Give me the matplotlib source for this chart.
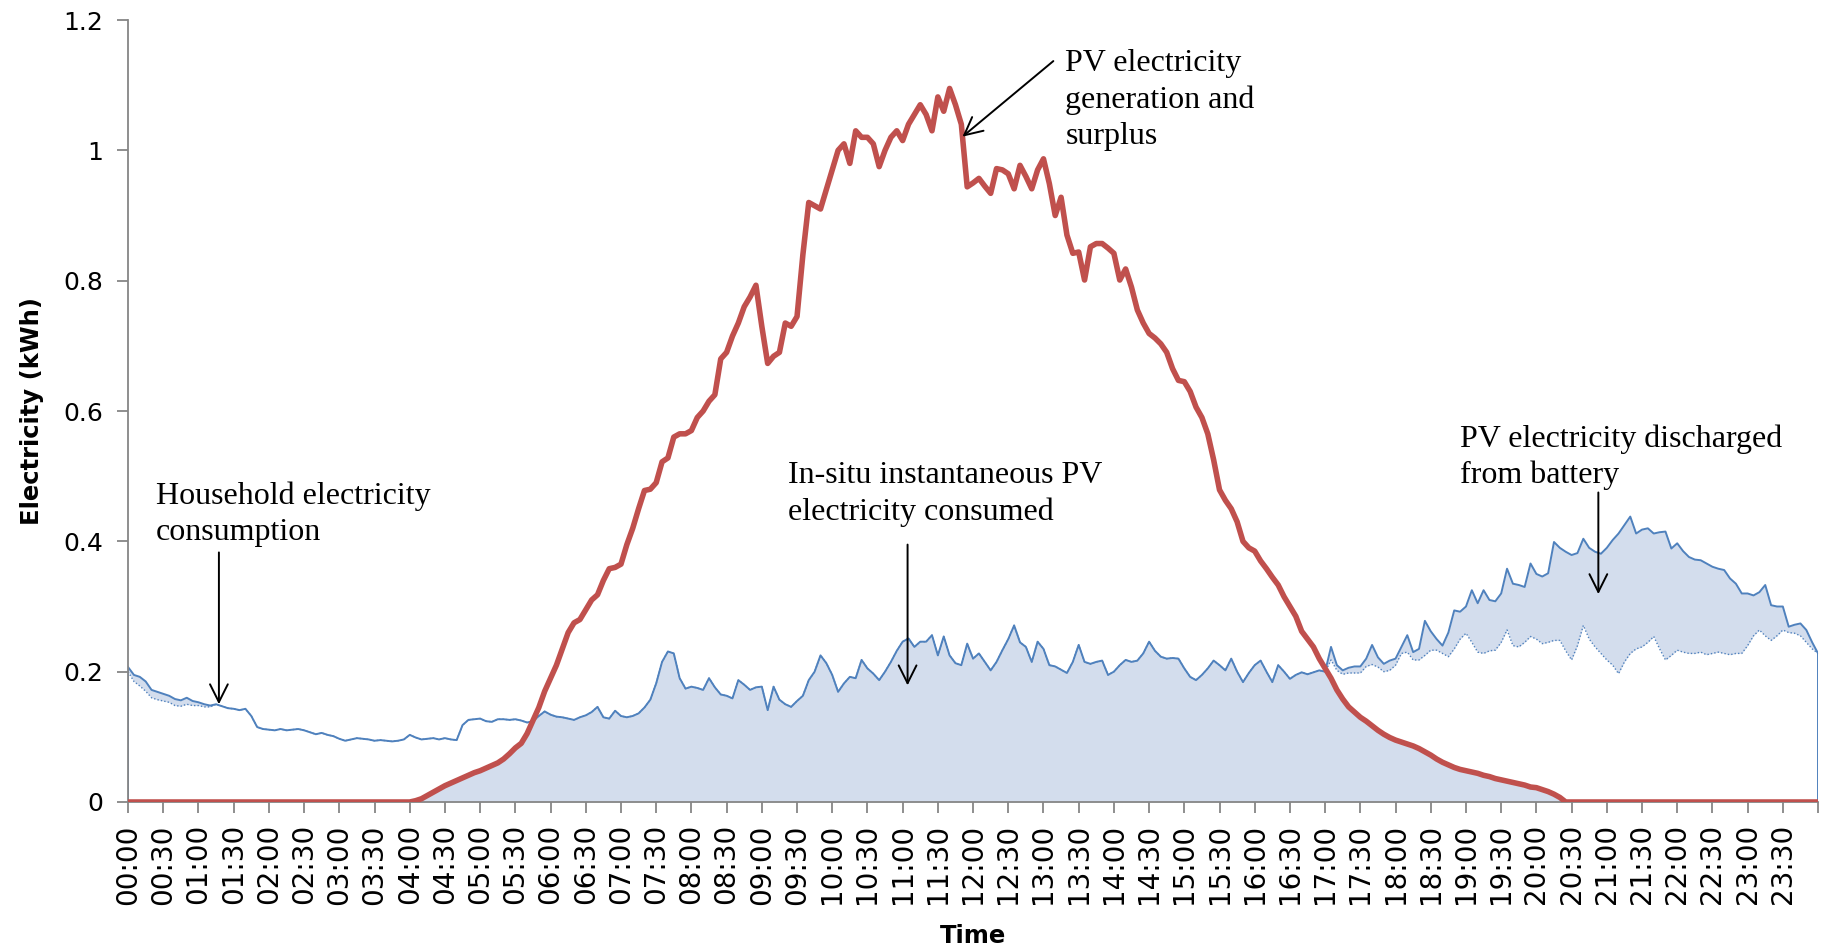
import numpy as np
import matplotlib
matplotlib.use("Agg")
import matplotlib.pyplot as plt

# 5-minute readings, 00:00 .. 24:00 (one row per hour)
minutes = np.arange(0, 24 * 60 + 1, 5)

pv_generation = [
    0, 0, 0, 0, 0, 0, 0, 0, 0, 0, 0, 0,  # 00
    0, 0, 0, 0, 0, 0, 0, 0, 0, 0, 0, 0,  # 01
    0, 0, 0, 0, 0, 0, 0, 0, 0, 0, 0, 0,  # 02
    0, 0, 0, 0, 0, 0, 0, 0, 0, 0, 0, 0,  # 03
    0, 0.002, 0.005, 0.01, 0.015, 0.02, 0.025, 0.029, 0.033, 0.037, 0.041, 0.045,
    0.048, 0.052, 0.056, 0.06, 0.066, 0.074, 0.083, 0.09, 0.105, 0.125, 0.145, 0.17,
    0.19, 0.21, 0.235, 0.26, 0.275, 0.28, 0.295, 0.31, 0.318, 0.34, 0.358, 0.36,
    0.365, 0.395, 0.42, 0.45, 0.478, 0.48, 0.49, 0.522, 0.528, 0.56, 0.565, 0.565,
    0.57, 0.59, 0.6, 0.615, 0.625, 0.68, 0.69, 0.715, 0.735, 0.76, 0.775, 0.793,
    0.73, 0.673, 0.684, 0.69, 0.735, 0.73, 0.745, 0.84, 0.92, 0.915, 0.91, 0.94,
    0.97, 1.0, 1.01, 0.98, 1.03, 1.02, 1.02, 1.01, 0.975, 1.0, 1.02, 1.03,
    1.015, 1.04, 1.055, 1.07, 1.055, 1.03, 1.082, 1.06, 1.095, 1.07, 1.04, 0.944,
    0.95, 0.957, 0.945, 0.934, 0.972, 0.97, 0.964, 0.941, 0.977, 0.96, 0.941, 0.97,
    0.987, 0.949, 0.9, 0.928, 0.87, 0.842, 0.844, 0.801, 0.852, 0.857, 0.857, 0.85,
    0.842, 0.801, 0.818, 0.79, 0.755, 0.735, 0.719, 0.712, 0.703, 0.69, 0.665, 0.647,
    0.645, 0.63, 0.606, 0.59, 0.565, 0.525, 0.479, 0.463, 0.45, 0.43, 0.4, 0.39,
    0.385, 0.37, 0.358, 0.345, 0.333, 0.315, 0.3, 0.285, 0.262, 0.25, 0.238, 0.22,
    0.205, 0.19, 0.172, 0.158, 0.146, 0.138, 0.13, 0.124, 0.117, 0.11, 0.104, 0.099,
    0.095, 0.092, 0.089, 0.086, 0.082, 0.077, 0.072, 0.066, 0.061, 0.057, 0.053, 0.05,
    0.048, 0.046, 0.044, 0.041, 0.039, 0.036, 0.034, 0.032, 0.03, 0.028, 0.026, 0.023,
    0.022, 0.019, 0.016, 0.012, 0.007, 0, 0, 0, 0, 0, 0, 0,
    0, 0, 0, 0, 0, 0, 0, 0, 0, 0, 0, 0,  # 21
    0, 0, 0, 0, 0, 0, 0, 0, 0, 0, 0, 0,  # 22
    0, 0, 0, 0, 0, 0, 0, 0, 0, 0, 0, 0,  # 23
    0,
]

consumption = [
    0.207, 0.195, 0.192, 0.185, 0.172, 0.169, 0.166, 0.163, 0.158, 0.156, 0.16, 0.155,
    0.153, 0.15, 0.148, 0.15, 0.147, 0.144, 0.143, 0.141, 0.143, 0.132, 0.115, 0.112,
    0.111, 0.11, 0.112, 0.11, 0.111, 0.112, 0.11, 0.107, 0.104, 0.106, 0.103, 0.101,
    0.097, 0.094, 0.096, 0.098, 0.097, 0.096, 0.094, 0.095, 0.094, 0.093, 0.094, 0.096,
    0.103, 0.099, 0.096, 0.097, 0.098, 0.096, 0.098, 0.096, 0.095, 0.118, 0.126, 0.127,
    0.128, 0.124, 0.123, 0.127, 0.127, 0.126, 0.127, 0.125, 0.122, 0.124, 0.132, 0.139,
    0.134, 0.131, 0.13, 0.128, 0.126, 0.13, 0.133, 0.138, 0.146, 0.13, 0.128, 0.14,
    0.132, 0.13, 0.132, 0.136, 0.145, 0.157, 0.182, 0.215, 0.231, 0.228, 0.19, 0.174,
    0.177, 0.175, 0.172, 0.19, 0.176, 0.165, 0.163, 0.159, 0.187, 0.18, 0.172, 0.176,
    0.177, 0.141, 0.177, 0.157, 0.15, 0.146, 0.155, 0.163, 0.187, 0.2, 0.225, 0.213,
    0.195, 0.169, 0.182, 0.192, 0.19, 0.218, 0.205, 0.197, 0.187, 0.2, 0.215, 0.232,
    0.246, 0.251, 0.238, 0.246, 0.246, 0.256, 0.225, 0.254, 0.225, 0.213, 0.21, 0.243,
    0.22, 0.228, 0.215, 0.202, 0.215, 0.233, 0.25, 0.271, 0.245, 0.238, 0.215, 0.246,
    0.235, 0.21, 0.208, 0.203, 0.198, 0.215, 0.241, 0.215, 0.212, 0.215, 0.217, 0.195,
    0.2, 0.21, 0.218, 0.215, 0.217, 0.228, 0.246, 0.232, 0.223, 0.22, 0.221, 0.22,
    0.205, 0.192, 0.187, 0.195, 0.205, 0.217, 0.21, 0.202, 0.22, 0.2, 0.184, 0.198,
    0.21, 0.217, 0.2, 0.184, 0.21, 0.2, 0.189, 0.195, 0.199, 0.196, 0.199, 0.202,
    0.2, 0.238, 0.21, 0.202, 0.206, 0.208, 0.208, 0.22, 0.241, 0.222, 0.212, 0.217,
    0.22, 0.238, 0.256, 0.23, 0.235, 0.278, 0.262, 0.25, 0.24, 0.26, 0.294, 0.292,
    0.3, 0.325, 0.305, 0.325, 0.31, 0.308, 0.32, 0.358, 0.335, 0.333, 0.33, 0.366,
    0.35, 0.346, 0.351, 0.399, 0.39, 0.384, 0.379, 0.382, 0.404, 0.39, 0.384, 0.381,
    0.39, 0.402, 0.412, 0.425, 0.438, 0.412, 0.418, 0.42, 0.412, 0.414, 0.415, 0.389,
    0.397, 0.385, 0.376, 0.372, 0.371, 0.366, 0.361, 0.358, 0.356, 0.343, 0.335, 0.32,
    0.32, 0.317, 0.322, 0.333, 0.302, 0.3, 0.3, 0.269, 0.272, 0.274, 0.264, 0.245,
    0.228,
]

# dotted line (grid supply) where the battery is discharging: 00-02h and 17-24h
grid_night = [
    0.2, 0.185, 0.178, 0.17, 0.16, 0.157, 0.155, 0.153, 0.148, 0.147, 0.15, 0.148,
    0.148, 0.146, 0.146, 0.15, 0.147, 0.144, 0.143, 0.141, 0.143, 0.132, 0.115, 0.112,
]
grid_evening = [
    0.2, 0.218, 0.202, 0.196, 0.198, 0.198, 0.198, 0.208, 0.211, 0.207, 0.2, 0.202,
    0.21, 0.228, 0.23, 0.218, 0.218, 0.225, 0.233, 0.233, 0.228, 0.223, 0.235, 0.25,
    0.259, 0.245, 0.23, 0.228, 0.232, 0.233, 0.245, 0.264, 0.24, 0.238, 0.245, 0.254,
    0.25, 0.243, 0.245, 0.248, 0.248, 0.232, 0.218, 0.24, 0.271, 0.25, 0.238, 0.228,
    0.218, 0.21, 0.197, 0.215, 0.228, 0.235, 0.238, 0.245, 0.254, 0.235, 0.218, 0.225,
    0.233, 0.23, 0.228, 0.228, 0.23, 0.226, 0.228, 0.23, 0.228, 0.226, 0.228, 0.228,
    0.24, 0.255, 0.264, 0.255, 0.248, 0.255, 0.264, 0.26, 0.259, 0.255, 0.245, 0.235,
    0.228,
]

t = minutes / 60
pv = np.array(pv_generation)
load = np.array(consumption)
# grid supply equals consumption while there is no battery discharge
grid = np.concatenate([grid_night, load[24:204], grid_evening])
grid = np.minimum(grid, load)

tick_minutes = np.arange(0, 24 * 60 + 1, 30)
tick_labels = [f"{m // 60:02d}:{m % 60:02d}" for m in tick_minutes[:-1]] + [""]

red = "#c0504d"
blue = "#4f81bd"
fill = "#d3dded"
axis_grey = "#868686"

fig = plt.figure(figsize=(18.27, 9.49), dpi=100)
ax = fig.add_axes([0.0701, 0.1549, 0.925, 0.824])

# shaded areas: in-situ PV use and battery discharge
ax.fill_between(t, 0, np.minimum(pv, load), color=fill, lw=0, zorder=1)
ax.fill_between(t, grid, load, color=fill, lw=0, zorder=1)

ax.plot(t, grid, color=blue, lw=1.0, ls=(0, (1, 1.5)), zorder=2)
ax.plot(t, load, color=blue, lw=1.4, zorder=2)
ax.vlines([t[0], t[-1]], 0, [load[0], load[-1]], color=blue, lw=1.4, zorder=2)
ax.plot(t, pv, color=red, lw=4.0, solid_joinstyle="round", zorder=3)

ax.set_xlim(0, 24)
ax.set_ylim(0, 1.2)
ax.set_yticks([0, 0.2, 0.4, 0.6, 0.8, 1.0, 1.2])
ax.set_yticklabels(["0", "0.2", "0.4", "0.6", "0.8", "1", "1.2"])
ax.set_xticks(tick_minutes / 60)
ax.set_xticklabels(tick_labels, rotation=90)
ax.tick_params(axis="both", direction="out", length=8, width=1.3,
               color=axis_grey, pad=8)
ax.tick_params(axis="x", labelsize=20)
ax.tick_params(axis="y", labelsize=18, pad=10)

for side in ["top", "right"]:
    ax.spines[side].set_visible(False)
for side in ["left", "bottom"]:
    ax.spines[side].set_color(axis_grey)
    ax.spines[side].set_linewidth(1.3)

ax.set_xlabel("Time", fontsize=17.5, fontweight="bold", labelpad=14)
ax.set_ylabel("Electricity (kWh)", fontsize=17.5, fontweight="bold", labelpad=14)

# annotations
note = dict(fontsize=23, family="Liberation Serif", ha="left", va="center",
            linespacing=1.33)
arrow = dict(arrowstyle="->", color="black", lw=1.4, mutation_scale=32,
             shrinkA=0, shrinkB=0)

ax.text(0.40, 0.442, "Household electricity\nconsumption", **note)
ax.annotate("", xy=(1.29, 0.150), xytext=(1.29, 0.383), arrowprops=arrow)

ax.text(9.375, 0.472, "In-situ instantaneous PV\nelectricity consumed", **note)
ax.annotate("", xy=(11.07, 0.179), xytext=(11.07, 0.395), arrowprops=arrow)

ax.text(13.31, 1.077, "PV electricity\ngeneration and\nsurplus", **note)
ax.annotate("", xy=(11.85, 1.021), xytext=(13.14, 1.137), arrowprops=arrow)

ax.text(18.91, 0.529, "PV electricity discharged\nfrom battery", **note)
ax.annotate("", xy=(20.88, 0.319), xytext=(20.88, 0.475), arrowprops=arrow)

fig.savefig("out.png", dpi=100)
